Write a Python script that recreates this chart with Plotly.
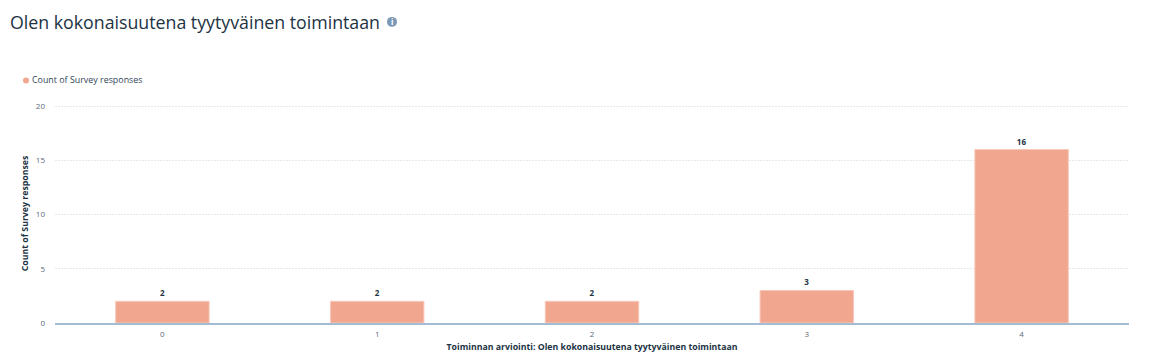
import plotly.graph_objects as go

categories = ["0", "1", "2", "3", "4"]
counts = [2, 2, 2, 3, 16]
series_name = "Count of Survey responses"
title = "Olen kokonaisuutena tyytyväinen toimintaan"
x_title = "Toiminnan arviointi: Olen kokonaisuutena tyytyväinen toimintaan"
y_ticks = [0, 5, 10, 15, 20]
y_range = [0, 20.2]

OFF = 8  # page body margin
W, H = 1152 - OFF, 364 - OFF
L, R, T, B = 55 - OFF, 1129 - OFF, 103.5 - OFF, 323.5 - OFF
DARK = "#213343"
TICK = "#5a6a7a"
FONT = "Open Sans"


def px(x):
    return (x - OFF - L) / (R - L)


def py(y):
    return 1 + (T - (y - OFF)) / (B - T)


fig = go.Figure(go.Bar(
    x=categories, y=counts, name=series_name, width=0.435,
    marker=dict(color="#f1a78f", line=dict(color="#f8c9b9", width=1)),
    text=counts, textposition="outside", cliponaxis=False,
    textfont=dict(family=FONT, size=8, color=DARK, weight=700),
))
fig.update_layout(
    width=W, height=H, autosize=False, showlegend=False,
    paper_bgcolor="white", plot_bgcolor="white",
    margin=dict(l=L, r=W - R, t=T, b=H - B),
    font=dict(family=FONT, color="#33475b", size=8),
    xaxis=dict(type="category", showgrid=False, ticks="", tickfont=dict(size=8, color=TICK),
               showline=True, linecolor="#a3bbd3", linewidth=1.5, zeroline=False, ticklabelstandoff=3,
               title=dict(text=f"<b>{x_title}</b>", font=dict(size=8.75, color=DARK), standoff=6)),
    yaxis=dict(range=y_range, tickvals=y_ticks, ticks="", tickfont=dict(size=8, color=TICK),
               gridcolor="#e4e9f0", griddash="2px,1px", gridwidth=1, zeroline=False, ticklabelstandoff=9,
               title=dict(text=f"<b>{series_name}</b>", font=dict(size=8.75, color=DARK), standoff=5)),
    shapes=[
        dict(type="circle", xref="paper", yref="paper", x0=px(387), x1=px(397), y0=py(26), y1=py(16),
             fillcolor="#7c98b6", line=dict(width=0)),
        dict(type="circle", xref="paper", yref="paper", x0=px(23), x1=px(29), y0=py(83), y1=py(77),
             fillcolor="#f1a78f", line=dict(width=0)),
    ],
    annotations=[
        dict(text=title, xref="paper", yref="paper", x=px(8), y=py(21.5),
             xanchor="left", yanchor="middle", showarrow=False,
             font=dict(family=FONT, size=17.75, color=DARK)),
        dict(text="<b>i</b>", xref="paper", yref="paper", x=px(392), y=py(21),
             xanchor="center", yanchor="middle", showarrow=False,
             font=dict(family=FONT, size=8, color="white")),
        dict(text=series_name, xref="paper", yref="paper", x=px(30), y=py(79),
             xanchor="left", yanchor="middle", showarrow=False,
             font=dict(family=FONT, size=8.9, color="#33475b")),
    ],
)
fig.write_html("out.html")
